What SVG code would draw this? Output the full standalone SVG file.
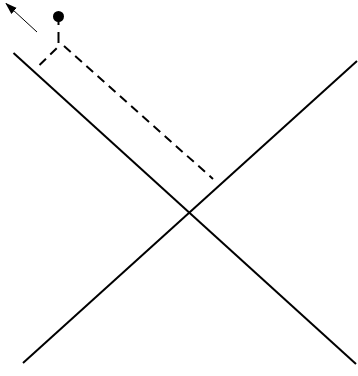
<svg xmlns="http://www.w3.org/2000/svg" width="358" height="376" viewBox="0 0 358 376">
<defs>
<marker id="ah" viewBox="0 0 12 10" refX="11" refY="5" markerWidth="12" markerHeight="10" markerUnits="userSpaceOnUse" orient="auto">
<path d="M0,1 L12,5 L0,9 Z" fill="#000"/>
</marker>
</defs>
<style>
.ln{stroke:#000;stroke-width:2;fill:none}
.ds{stroke:#000;stroke-width:2;fill:none;stroke-dasharray:9 6}
</style>
<rect width="358" height="376" fill="#fff"/>
<g id="lines">
<line class="ln" x1="13.5" y1="53" x2="356" y2="364"/>
<line class="ln" x1="23" y1="363" x2="357" y2="61"/>
</g>
<g id="connectors">
<line x1="37" y1="32" x2="6" y2="3.5" stroke="#000" stroke-width="1" marker-end="url(#ah)"/>
<line class="ln" x1="58.5" y1="20" x2="58.5" y2="25"/>
<line class="ln" x1="58.5" y1="32" x2="58.5" y2="43"/>
<line class="ds" x1="56.7" y1="48.3" x2="36" y2="68.5"/>
<line class="ds" x1="64" y1="46" x2="213" y2="179"/>
</g>
<g id="dot">
<circle cx="58.5" cy="16.5" r="5.5" fill="#000"/>
</g>
</svg>
